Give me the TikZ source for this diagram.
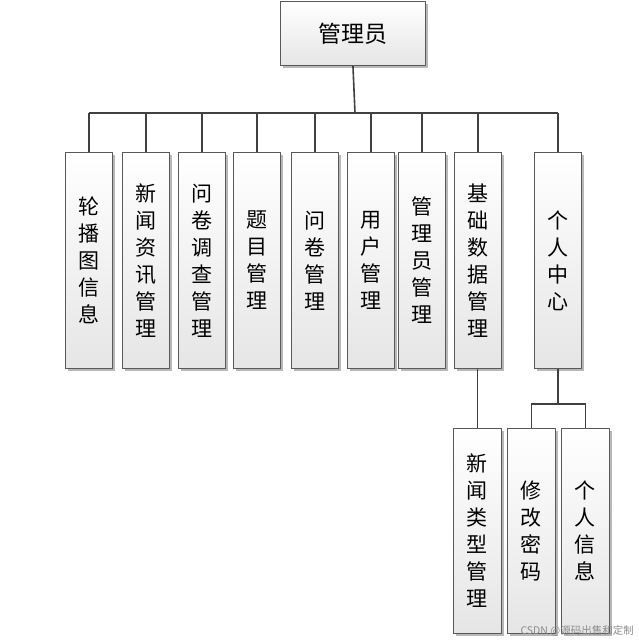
\documentclass[tikz,border=0pt]{standalone}
\usepackage{fontspec}
\newfontfamily\cjk{Noto Sans CJK SC}
\usetikzlibrary{shadows}
\tikzset{
  box/.style={draw=black!65, line width=0.9pt, top color=white, bottom color=black!10,
    inner sep=0pt, anchor=north west, align=center,
    font=\cjk\fontsize{21}{27}\selectfont,
    drop shadow={shadow xshift=2.5pt, shadow yshift=-2.5pt, fill=black!35, opacity=0.8}},
  conn/.style={draw=black!75, line width=1.6pt}
}
\begin{document}
\begin{tikzpicture}[x=1pt,y=-1pt]
\useasboundingbox (0,0) rectangle (639,642);
\node[box, minimum width=145pt, minimum height=64pt, font=\cjk\fontsize{23}{27}\selectfont] (top) at (280,1) {管理员};
\foreach \n/\x/\t in {b1/65/{轮\\播\\图\\信\\息}, b2/122/{新\\闻\\资\\讯\\管\\理}, b3/178/{问\\卷\\调\\查\\管\\理},
  b4/233/{题\\目\\管\\理}, b5/291/{问\\卷\\管\\理}, b6/347/{用\\户\\管\\理}, b7/398/{管\\理\\员\\管\\理},
  b8/454/{基\\础\\数\\据\\管\\理}, b9/534/{个\\人\\中\\心}}
  \node[box, minimum width=47pt, minimum height=216pt] (\n) at (\x,152) {\t};
\node[box, minimum width=48pt, minimum height=205pt] (b10) at (453,428) {新\\闻\\类\\型\\管\\理};
\node[box, minimum width=48pt, minimum height=205pt] (b11) at (507,428) {修\\改\\密\\码};
\node[box, minimum width=48pt, minimum height=205pt] (b12) at (561,428) {个\\人\\信\\息};
\coordinate (bar) at (355,113);
\draw[conn] (top.south) -- (bar);
\draw[conn] (b1.north |- bar) -- (b9.north |- bar);
\foreach \n in {b1,b2,b3,b4,b5,b6,b7,b8,b9}
  \draw[conn] (\n.north) -- (\n.north |- bar);
\draw[conn] (b8.south -| b10.north) -- (b10.north);
\coordinate (bar2) at (559,404);
\draw[conn] (b9.south) -- (b9.south |- bar2);
\draw[conn] (b11.north) -- (b11.north |- bar2) -- (b12.north |- bar2) -- (b12.north);
\node[anchor=east, text=black!45, font=\cjk\fontsize{10.5}{12}\selectfont, inner sep=0pt] (wm) at (634,631) {CSDN @源码出售和定制};
\end{tikzpicture}
\end{document}
